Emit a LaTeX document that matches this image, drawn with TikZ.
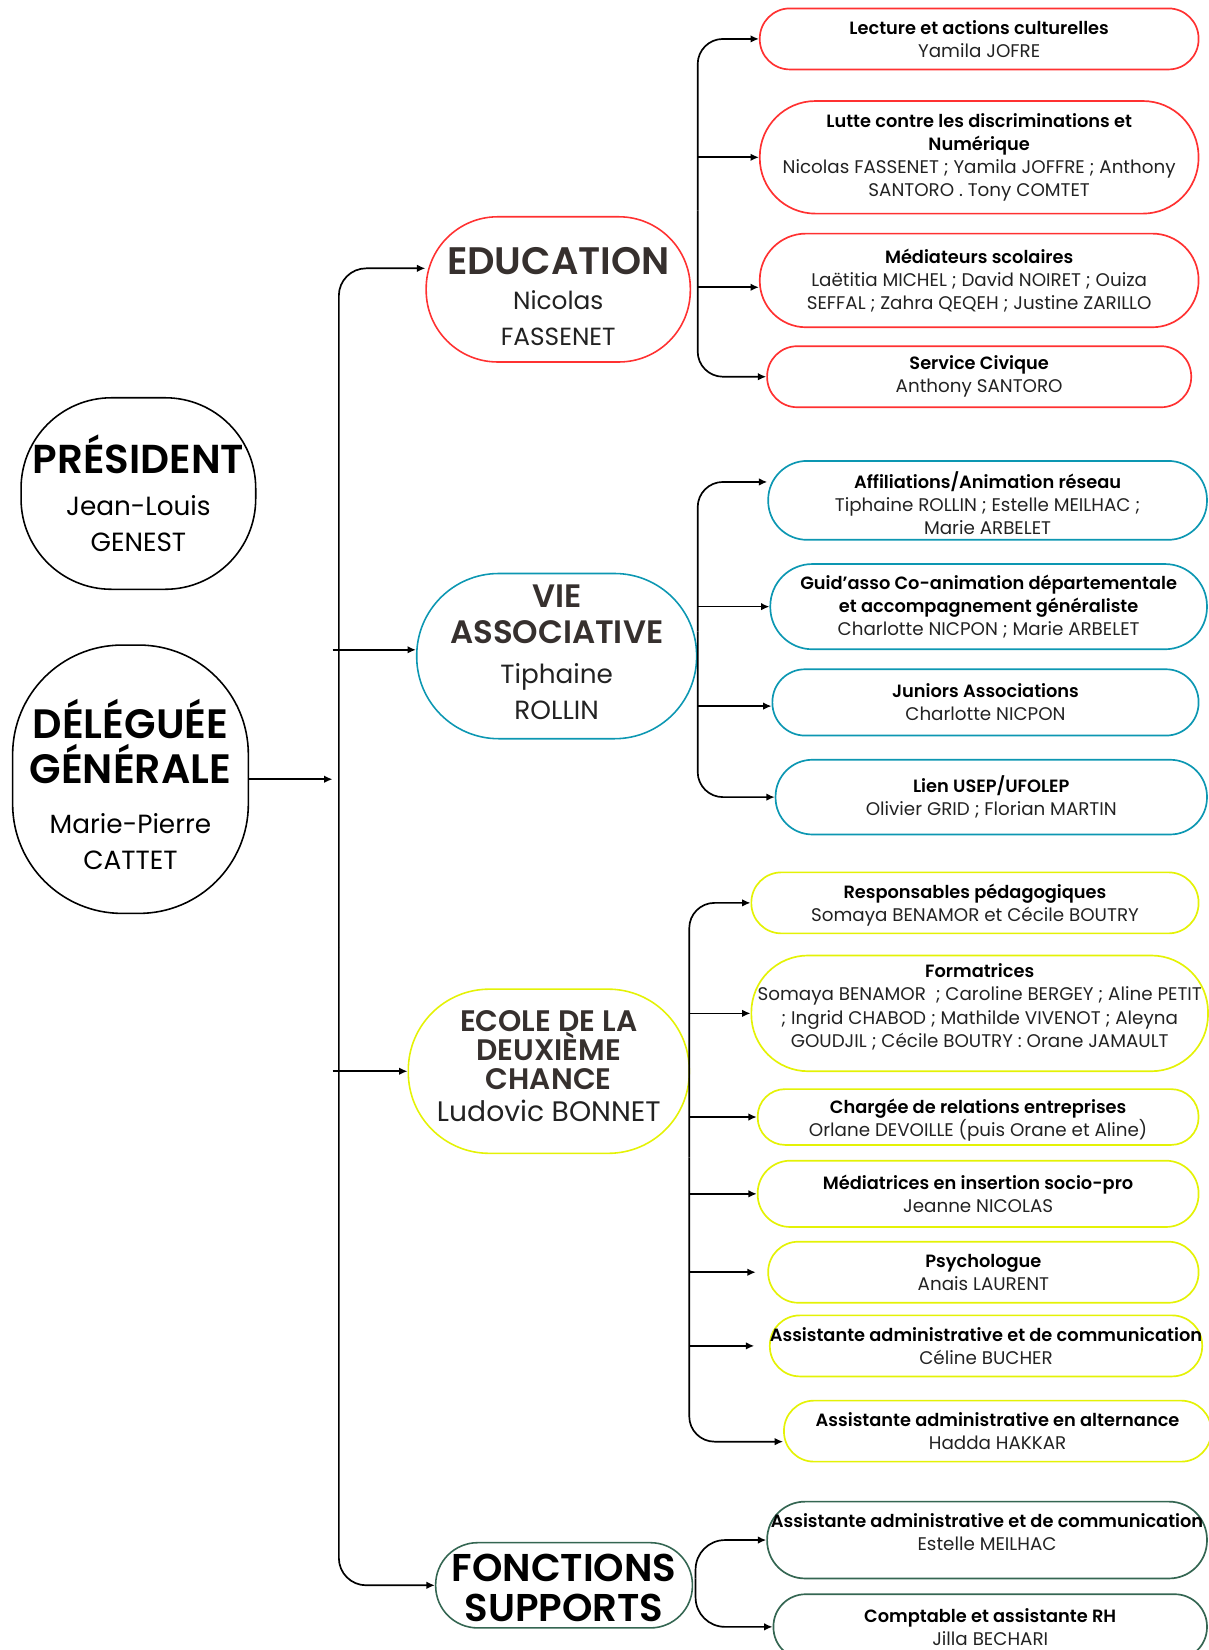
\documentclass[tikz,border=0pt]{standalone}
\usepackage{fontspec}
\setmainfont{Poppins}[BoldFont={Poppins SemiBold}]
\usetikzlibrary{arrows.meta}
\definecolor{cred}{HTML}{FF3131}
\definecolor{cteal}{HTML}{0C97B2}
\definecolor{cyel}{HTML}{E4F205}
\definecolor{cgreen}{HTML}{346652}
\definecolor{ctitle}{HTML}{36302E}
\definecolor{ctext}{HTML}{222222}
\newcommand\nolsl{\lineskiplimit-50pt\relax}
\newcommand\tp[1]{\rule{0pt}{#1}}
\newcommand\hd[1]{{\fontsize{8.45}{11}\selectfont\bfseries\color{black}#1}}
\newcommand\bt[2]{{\fontsize{#1}{17}\selectfont\bfseries #2}}
\begin{document}
\begin{tikzpicture}[x=0.5pt,y=-0.5pt,
  box/.style={draw, line width=0.8pt, inner sep=0pt, align=center, text=ctext},
  sub/.style={box, font=\fontsize{8.7}{11}\selectfont\nolsl},
  big/.style={box, line width=0.75pt, font=\fontsize{12.5}{17}\selectfont\nolsl},
  arr/.style={line width=0.8pt, -{Latex[length=4pt,width=3.6pt]}},
]
\useasboundingbox (0,0) rectangle (1148,1568);

% left column
\node[big, draw=black, text=black, minimum width=111.5pt, minimum height=91pt, rounded corners=43pt] (pres) at (131.5,469)
  {\bt{19.2}{PRÉSIDENT}\\[3pt]Jean-Louis\\GENEST};
\node[big, draw=black, text=black, minimum width=112pt, minimum height=127.5pt, rounded corners=52pt] (dg) at (124,740.5)
  {\tp{23.6pt}\bt{19.5}{DÉLÉGUÉE}\\[4.5pt]\bt{19.5}{GÉNÉRALE}\\[7pt]Marie-Pierre\\CATTET};

% main branches
\node[big, draw=cred, font=\fontsize{11.8}{17}\selectfont\nolsl, minimum width=125.5pt, minimum height=69pt, rounded corners=34pt] (edu) at (530.5,275)
  {\tp{19.7pt}\textcolor{ctitle}{\bt{18.2}{EDUCATION}}\\[-0.5pt]Nicolas\\FASSENET};
\node[big, draw=cteal, text depth=3.5pt, minimum width=133pt, minimum height=78.5pt, rounded corners=39pt] (vie) at (529,623.5)
  {\textcolor{ctitle}{\bt{15.4}{VIE}}\\\textcolor{ctitle}{\bt{15.4}{ASSOCIATIVE}}\\[2pt]Tiphaine\\ROLLIN};
\node[big, draw=cyel, text depth=5pt, font=\fontsize{13.4}{14}\selectfont\nolsl, minimum width=133.5pt, minimum height=78pt, rounded corners=38.5pt] (eco) at (521.5,1018)
  {\textcolor{ctitle}{\bt{14.1}{ECOLE DE LA}}\\\textcolor{ctitle}{\bt{14.1}{DEUXIÈME}}\\\textcolor{ctitle}{\bt{14.1}{CHANCE}}\\[1.2pt]Ludovic BONNET};
\node[big, draw=cgreen, text=black, font=\fontsize{18.4}{19}\selectfont\bfseries\nolsl, minimum width=122pt, minimum height=40.5pt, rounded corners=20pt] (fon) at (536,1506.5)
  {\tp{15.9pt}FONCTIONS\\SUPPORTS};

% education
\node[sub, draw=cred, minimum width=208.5pt, minimum height=29pt, rounded corners=14.3pt] (lec) at (930.5,37)
  {\hd{Lecture et actions culturelles}\\Yamila JOFRE};
\node[sub, draw=cred, minimum width=208.5pt, minimum height=53.5pt, rounded corners=26.5pt] (lut) at (930.5,149.5)
  {\hd{Lutte contre les discriminations et}\\\hd{Numérique}\\Nicolas FASSENET ; Yamila JOFFRE ; Anthony\\SANTORO . Tony COMTET};
\node[sub, draw=cred, minimum width=208.5pt, minimum height=44.5pt, rounded corners=22pt] (med) at (930.5,266.5)
  {\hd{Médiateurs scolaires}\\Laëtitia MICHEL ; David NOIRET ; Ouiza\\SEFFAL ; Zahra QEQEH ; Justine ZARILLO};
\node[sub, draw=cred, minimum width=201.5pt, minimum height=29pt, rounded corners=14.3pt] (ser) at (930.5,358)
  {\hd{Service Civique}\\Anthony SANTORO};

% vie associative
\node[sub, draw=cteal, minimum width=208.5pt, minimum height=37.5pt, rounded corners=18.5pt] (aff) at (938.5,475.5)
  {\tp{10.4pt}\hd{Affiliations/Animation réseau}\\Tiphaine ROLLIN ; Estelle MEILHAC ;\\Marie ARBELET};
\node[sub, draw=cteal, minimum width=207.5pt, minimum height=40.5pt, rounded corners=20pt] (gui) at (939.5,576.5)
  {\hd{Guid’asso Co-animation départementale}\\\hd{et accompagnement généraliste}\\Charlotte NICPON ; Marie ARBELET};
\node[sub, draw=cteal, minimum width=202.5pt, minimum height=31.5pt, rounded corners=15.5pt] (jun) at (936.5,667.5)
  {\hd{Juniors Associations}\\Charlotte NICPON};
\node[sub, draw=cteal, minimum width=205pt, minimum height=35.5pt, rounded corners=17.5pt] (lie) at (942,757.5)
  {\hd{Lien USEP/UFOLEP}\\Olivier GRID ; Florian MARTIN};

% ecole
\node[sub, draw=cyel, minimum width=212.5pt, minimum height=29pt, rounded corners=14.3pt] (res) at (926.5,858)
  {\tp{9.3pt}\hd{Responsables pédagogiques}\\Somaya BENAMOR et Cécile BOUTRY};
\node[sub, draw=cyel, text depth=7.5pt, minimum width=217pt, minimum height=55pt, rounded corners=27pt] (frm) at (931,963)
  {\hd{Formatrices}\\Somaya BENAMOR\ \ ; Caroline BERGEY ; Aline PETIT\\; Ingrid CHABOD ; Mathilde VIVENOT ; Aleyna\\GOUDJIL ; Cécile BOUTRY : Orane JAMAULT};
\node[sub, draw=cyel, minimum width=209.5pt, minimum height=26.5pt, rounded corners=13pt] (cha) at (929.5,1061.5)
  {\tp{10pt}\hd{Chargée de relations entreprises}\\Orlane DEVOILLE (puis Orane et Aline)};
\node[sub, draw=cyel, minimum width=209.5pt, minimum height=31.5pt, rounded corners=15.5pt] (mdt) at (929.5,1134.5)
  {\hd{Médiatrices en insertion socio-pro}\\Jeanne NICOLAS};
\node[sub, draw=cyel, minimum width=204.5pt, minimum height=29pt, rounded corners=14.3pt] (psy) at (934.5,1209)
  {\hd{Psychologue}\\Anais LAURENT};
\node[sub, draw=cyel, minimum width=203pt, minimum height=29pt, rounded corners=14.3pt] (asc) at (937,1279)
  {\hd{Assistante administrative et de communication}\\Céline BUCHER};
\node[sub, draw=cyel, minimum width=203pt, minimum height=29pt, rounded corners=14.3pt] (ast) at (948,1360)
  {\hd{Assistante administrative en alternance}\\Hadda HAKKAR};

% supports
\node[sub, draw=cgreen, text depth=8pt, minimum width=209pt, minimum height=36.5pt, rounded corners=18pt] (est) at (938,1463.5)
  {\hd{Assistante administrative et de communication}\\Estelle MEILHAC};
\node[sub, draw=cgreen, minimum width=206pt, minimum height=31pt, rounded corners=15.3pt] (jil) at (941,1546)
  {\hd{Comptable et assistante RH}\\Jilla BECHARI};

% main trunk
\coordinate (tx) at (316,0);
\coordinate (tr) at (322,900);
\coordinate (eduA) at ([yshift=10pt]edu.west);
\coordinate (vieA) at ([yshift=3pt]vie.west);
\draw[arr, rounded corners=13pt] (tr) |- (eduA);
\draw[arr, rounded corners=13pt] (tr) |- (fon.west);
\draw[arr] (vieA -| tx) -- (vieA);
\draw[arr] (eco.west -| tx) -- (eco.west);
\draw[arr] (dg.east) -- (dg.east -| tx);

% education sub trunk
\coordinate (ex) at (663,200);
\coordinate (medA) at ([yshift=-3.25pt]med.west);
\draw[arr, rounded corners=12pt] (ex) |- (lec.west);
\draw[arr, rounded corners=12pt] (ex) |- (ser.west);
\draw[arr] (lut.west -| ex) -- (lut.west);
\draw[arr] (medA -| ex) -- (medA);

% vie sub trunk
\coordinate (vx) at (663,600);
\coordinate (affA) at ([yshift=8.75pt]aff.west);
\coordinate (junA) at ([yshift=-1.75pt]jun.west);
\draw[arr, rounded corners=12pt] (vx) |- (affA);
\draw[arr, rounded corners=12pt] (vx) |- (lie.west);
\draw[arr] (gui.west -| vx) -- (gui.west);
\draw[arr] (junA -| vx) -- (junA);

% ecole sub trunk
\coordinate (cx) at (655,1100);
\coordinate (astA) at ([yshift=-5pt]ast.west);
\coordinate (psyA) at ([xshift=-5.5pt]psy.west);
\coordinate (ascA) at ([xshift=-7pt]asc.west);
\draw[arr, rounded corners=12pt] (cx) |- (res.west);
\draw[arr, rounded corners=12pt] (cx) |- (astA);
\draw[arr] (frm.west -| cx) -- (frm.west);
\draw[arr] (cha.west -| cx) -- (cha.west);
\draw[arr] (mdt.west -| cx) -- (mdt.west);
\draw[arr] (psyA -| cx) -- (psyA);
\draw[arr] (ascA -| cx) -- (ascA);

% supports sub trunk
\coordinate (sx) at (661,1500);
\draw[arr, rounded corners=14pt] (sx) |- (est.west);
\draw[arr, rounded corners=14pt] (sx) |- (jil.west);
\end{tikzpicture}
\end{document}
